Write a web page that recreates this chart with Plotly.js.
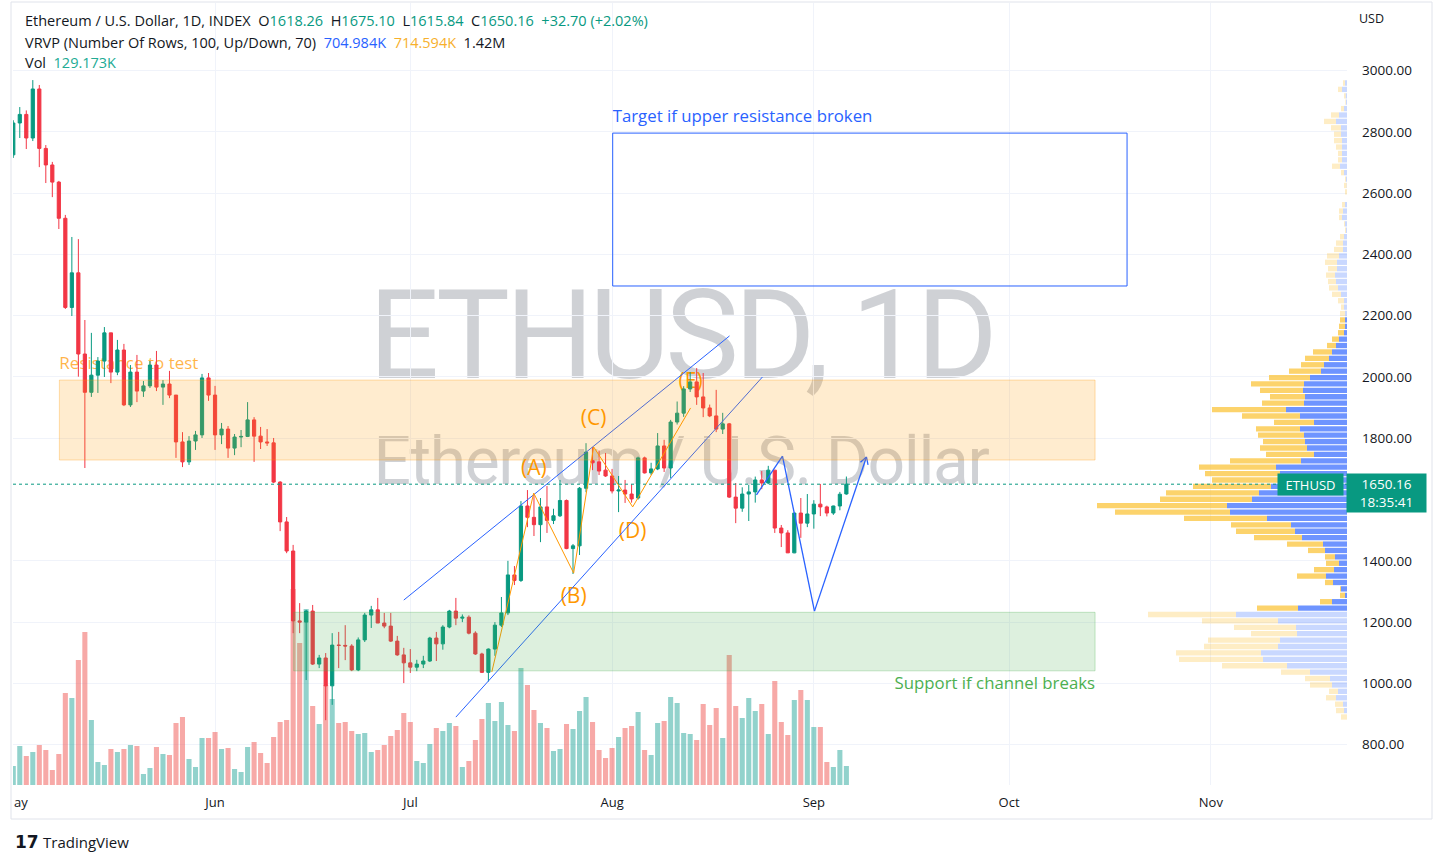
<!DOCTYPE html>
<html>
<head>
<meta charset="utf-8">
<script src="https://cdn.plot.ly/plotly-3.0.1.min.js"></script>
<style>
html,body{margin:0;padding:0;background:#ffffff;}
#wrap{position:relative;width:1445px;height:863px;overflow:hidden;background:#fff;}
#wm{position:absolute;left:0;top:0;width:1445px;height:863px;pointer-events:none;font-family:Roboto,sans-serif;color:rgba(149,152,161,0.45);}
#wm div{position:absolute;white-space:nowrap;transform:translateX(-50%);}
#wm1{left:681px;top:274px;font-size:124px;line-height:124px;letter-spacing:-4.5px;}
#wm2{left:681px;top:429px;font-size:66px;line-height:66px;letter-spacing:-1.4px;}
#chart{position:absolute;left:0;top:0;width:1445px;height:863px;}
</style>
</head>
<body>
<div id="wrap">
  <div id="wm"><div id="wm1">ETHUSD, 1D</div><div id="wm2">Ethereum / U.S. Dollar</div></div>
  <div id="chart"></div>
</div>
<script>
// ---------- Daily OHLC, Ethereum / U.S. Dollar (INDEX), 2022-05-01 .. 2022-09-06 ----------
const firstDay = [2022, 4, 1]; // 1 May 2022 (month is 0-based)
const open = [
 2725,2829,2857,2780,2940,2746,2692,2636,2518,2227,2340,2075,1950,2006,2052,2144,2016,2088,1909,2016,1954,1971,2039,1967,1977,1941,1788,1723,1791,1811,1997,
 1941,1811,1830,1768,1804,1806,1860,1807,1788,1785,1657,1527,1432,1204,1200,1236,1063,1083,992,1125,1124,1122,1044,1142,1223,1240,1197,1187,1138,1093,
 1067,1053,1063,1073,1148,1129,1184,1236,1213,1216,1164,1096,1036,1112,1190,1230,1354,1336,1579,1542,1518,1576,1532,1547,1597,1440,1449,1637,1727,1723,1696,
 1677,1628,1631,1618,1605,1736,1687,1700,1775,1703,1853,1882,1961,1984,1935,1899,1873,1830,1847,1608,1572,1618,1625,1664,1654,1696,1507,1491,1426,1556,1523,
 1553,1585,1576,1556,1579,1618.26];
const high = [
 2838,2881,2870,2969,2953,2757,2702,2640,2529,2457,2450,2186,2144,2065,2163,2144,2121,2108,2039,2072,1987,2052,2085,1990,2020,1941,1820,1807,1824,2010,2013,
 1971,1850,1840,1814,1827,1918,1869,1837,1830,1801,1660,1543,1452,1262,1240,1256,1093,1099,1164,1168,1190,1128,1150,1230,1253,1279,1230,1230,1155,1116,
 1112,1077,1090,1152,1168,1190,1240,1279,1225,1222,1170,1100,1114,1200,1282,1400,1383,1595,1631,1618,1605,1644,1570,1664,1600,1455,1641,1784,1771,1760,1752,
 1700,1677,1664,1650,1740,1740,1720,1817,1795,1860,1920,1970,2016,2029,2013,1910,1958,1883,1850,1654,1640,1648,1675,1693,1710,1696,1517,1500,1556,1605,1618,
 1598,1651,1580,1580,1625,1675.10];
const low = [
 2715,2780,2744,2770,2685,2633,2587,2483,2222,2199,2001,1703,1935,1948,2000,1980,2006,1905,1902,1918,1935,1964,1954,1909,1931,1736,1706,1713,1762,1801,1922,
 1762,1781,1736,1745,1771,1804,1723,1765,1775,1654,1497,1425,1164,1164,1011,1060,1050,880,930,1050,1076,1040,1040,1135,1181,1197,1180,1135,1090,1001,
 1034,1040,1050,1070,1073,1110,1180,1190,1200,1160,1093,1034,1006,1090,1184,1223,1321,1331,1510,1481,1461,1491,1520,1543,1438,1357,1419,1624,1696,1680,1674,
 1620,1559,1589,1590,1600,1685,1680,1696,1690,1670,1845,1870,1951,1909,1869,1869,1820,1814,1605,1523,1560,1530,1590,1634,1650,1491,1445,1426,1425,1475,1510,
 1505,1546,1545,1550,1565,1615.84];
const close = [
 2829,2857,2780,2940,2746,2692,2636,2518,2227,2340,2075,1950,2006,2052,2144,2016,2088,1909,2016,1954,1971,2039,1967,1977,1941,1788,1723,1791,1811,1997,1941,
 1811,1830,1768,1804,1806,1860,1807,1788,1785,1657,1527,1432,1204,1200,1236,1063,1083,992,1125,1124,1122,1044,1142,1223,1240,1197,1187,1138,1093,1067,
 1053,1063,1073,1148,1129,1184,1236,1213,1216,1164,1096,1036,1112,1190,1230,1354,1336,1579,1542,1518,1576,1532,1547,1597,1440,1449,1637,1755,1720,1693,1677,
 1628,1631,1618,1602,1736,1687,1700,1775,1703,1853,1882,1961,1984,1935,1899,1873,1830,1847,1608,1572,1618,1625,1664,1654,1696,1507,1491,1426,1556,1523,1553,
 1585,1576,1556,1579,1617.46,1650.16];
// daily volume, relative units
const volume = [
 19,39,29,33,40,35,15,31,92,87,125,153,65,23,20,36,33,36,40,39,11,17,38,31,30,62,68,26,18,47,47,
 53,36,37,16,13,38,43,32,22,48,63,65,196,142,176,79,61,100,86,62,63,54,51,52,33,35,40,49,55,72,
 63,24,22,41,57,54,62,59,18,24,45,66,82,64,83,60,54,117,100,75,62,57,34,36,61,56,74,88,63,35,27,
 37,48,57,59,73,35,30,62,64,88,82,52,51,45,81,60,77,47,130,79,67,87,74,81,51,104,63,50,85,95,85,
 58,58,23,18,35,19];

// ---------- Visible-range volume profile (100 rows, bottom -> top) ----------
const vpLow = 880, vpStep = 20.9;           // price of lowest row edge, row height
const vpValueArea = [17, 62];               // rows inside the 70% value area
const vpUp = [
 0,3,4,11,9,15,17,37,60,84, 86,69,67,50,51,69,111,49,15,2, 6,14,21,13,8,12,22,24,45,52,
 56,80,117,120,95,88,76,65,67,71, 46,33,40,42,43,47,33,47,61,43, 42,44,43,37,26,23,18,15,11,8,
 3,2,2,2,3,3,6,9,11,12, 10,10,8,4,4,3,1,2,5,4, 2,0,0,0.3,1,3,7,5,5,5, 5,6,6,11,8,3,1,1.3,5,2];
const vpDown = [
 6,8,8,10,9,22,25,29,65,84, 85,74,72,46,62,76,88,41,12,5, 1,8,29,20,13,10,17,36,48,59,
 60,83,115,130,92,93,78,70,75,77, 71,48,47,42,46,44,40,58,74,42, 35,43,53,41,32,23,24,19,9,7,
 6,6,5,5,3,6,9,9,8,9, 9,12,12,9,7,4,1,1,3,4, 3,0,2,2.7,1,3,8,4,4,6, 8,7,10,12,8,3,0.7,1.7,4,2];

// ---------- Axis ticks ----------
const priceTicks = [800,1000,1200,1400,1800,2000,2200,2400,2600,2800,3000];
const monthTicks = ['2022-06-01','2022-07-01','2022-08-01','2022-09-01','2022-10-01','2022-11-01'];
const monthLabels = ['Jun','Jul','Aug','Sep','Oct','Nov'];

// ---------- Drawings (date, price) ----------
const resistanceZone = {x0:'2022-05-08 02:00', x1:'2022-10-14 05:00', y0:1729, y1:1990};
const supportZone    = {x0:'2022-06-13 02:00', x1:'2022-10-14 05:00', y0:1041, y1:1232};
const targetBox      = {x0:'2022-08-01 02:20', x1:'2022-10-19 03:00', y0:2297, y1:2796};
const upperChannel = [['2022-06-30 00:00',1272],['2022-08-19 01:00',2134]];
const lowerChannel = [['2022-07-08 00:00',890],['2022-08-24 02:30',2000]];
const projection = [['2022-08-23 04:30',1615],['2022-08-27 04:20',1742],['2022-09-01 02:20',1236],['2022-09-09 02:00',1739]];
const wave = [['2022-07-13 12:30',1037],['2022-07-19 23:00',1621],['2022-07-26 02:20',1360],['2022-07-29 04:00',1772],['2022-08-04 04:00',1576],['2022-08-13 01:30',1899]];
const waveNames = ['(A)','(B)','(C)','(D)','(E)'];
const waveLabelPos = [['2022-07-20 00:00',1696],['2022-07-26 02:20',1279],['2022-07-29 04:00',1860],['2022-08-04 04:00',1491],['2022-08-13 01:30',1980]];
const zoneTexts = ['Resistance to test','Target if upper resistance broken','Support if channel breaks'];
const zoneTextPos = [['2022-05-08 02:00',2039],['2022-08-01 02:20',2845],['2022-10-14 05:00',995]];

// ---------- Header texts ----------
const symbolTitle = 'Ethereum / U.S. Dollar, 1D, INDEX';
const vrvpTitle = 'VRVP (Number Of Rows, 100, Up/Down, 70)';
const vrvpValues = ['704.984K','714.594K','1.42M'];
const volValue = '129.173K';
const countdown = '18:35:41';

// =====================================================================
const UP = '#089981', DOWN = '#f23645';
const FONT = '"Open Sans", Roboto, sans-serif';
const n = open.length;
const dates = open.map((_, i) => new Date(Date.UTC(firstDay[0], firstDay[1], firstDay[2] + i)).toISOString().slice(0, 10));
const last = n - 1;
const chg = close[last] - close[last - 1];

const NB = '\u00a0';
const g = s => `<span style="color:${UP}">${s}</span>`;
const line1 = `${symbolTitle}${NB}${NB}O${g(open[last].toFixed(2))}${NB}${NB}H${g(high[last].toFixed(2))}${NB}${NB}L${g(low[last].toFixed(2))}${NB}${NB}C${g(close[last].toFixed(2))}${NB}${NB}${g('+' + chg.toFixed(2) + ' (+' + (chg / close[last - 1] * 100).toFixed(2) + '%)')}`;
const line2 = `${vrvpTitle}${NB}${NB}<span style="color:#2962ff">${vrvpValues[0]}</span>${NB}${NB}<span style="color:#f7b02c">${vrvpValues[1]}</span>${NB}${NB}${vrvpValues[2]}`;
const line3 = `Vol${NB}${NB}<span style="color:#22ab94">${volValue}</span>`;

// pixel -> paper helpers for layout placement
const PL = 13, PR = 1347, PT = 3, PB = 785;
const px = x => (x - PL) / (PR - PL);
const py = y => (PB - y) / (PB - PT);

const traces = [];

// drawing texts (under the candles)
traces.push({
  type: 'scatter', mode: 'text', xaxis: 'x', yaxis: 'y', hoverinfo: 'skip',
  x: waveLabelPos.map(p => p[0]).concat(zoneTextPos.map(p => p[0])),
  y: waveLabelPos.map(p => p[1]).concat(zoneTextPos.map(p => p[1])),
  text: waveNames.concat(zoneTexts),
  textposition: ['middle center','middle center','middle center','middle center','middle center','middle right','middle right','middle left'],
  textfont: {
    family: FONT,
    size: [21,21,21,21,21,17,16.8,16.8],
    color: ['#ff9800','#ff9800','#ff9800','#ff9800','#ff9800','rgba(255,152,0,0.72)','#2962ff','#4caf50']
  }
});

// volume
traces.push({
  type: 'bar', xaxis: 'x', yaxis: 'y2', x: dates, y: volume, hoverinfo: 'skip',
  width: 0.78 * 86400000,
  marker: {color: close.map((c, i) => c >= open[i] ? 'rgba(38,166,154,0.5)' : 'rgba(239,83,80,0.5)'), line: {width: 0}}
});

// candles
traces.push({
  type: 'candlestick', xaxis: 'x', yaxis: 'y3', x: dates, open, high, low, close, hoverinfo: 'skip',
  increasing: {line: {color: UP, width: 1}, fillcolor: UP},
  decreasing: {line: {color: DOWN, width: 1}, fillcolor: DOWN},
  whiskerwidth: 0
});

// volume profile
const vpY = vpUp.map((_, k) => vpLow + (k + 0.5) * vpStep);
const inVA = k => k >= vpValueArea[0] && k <= vpValueArea[1];
traces.push({
  type: 'bar', orientation: 'h', xaxis: 'x2', yaxis: 'y', y: vpY, x: vpUp, base: 0, width: vpStep * 0.83,
  hoverinfo: 'skip', marker: {color: vpUp.map((_, k) => inVA(k) ? 'rgba(41,98,255,0.68)' : 'rgba(41,98,255,0.25)'), line: {width: 0}}
});
traces.push({
  type: 'bar', orientation: 'h', xaxis: 'x2', yaxis: 'y', y: vpY, x: vpDown, base: vpUp, width: vpStep * 0.83,
  hoverinfo: 'skip', marker: {color: vpDown.map((_, k) => inVA(k) ? 'rgba(251,192,45,0.7)' : 'rgba(251,192,45,0.28)'), line: {width: 0}}
});

// shapes
const shapes = [];
const seg = (pts, color, w) => { for (let i = 0; i < pts.length - 1; i++) shapes.push({type: 'line', xref: 'x', yref: 'y', x0: pts[i][0], y0: pts[i][1], x1: pts[i+1][0], y1: pts[i+1][1], line: {color, width: w}, layer: 'above'}); };
seg(upperChannel, '#2962ff', 1);
seg(lowerChannel, '#2962ff', 1);
seg(wave, '#ff9800', 1);
seg(projection, '#2962ff', 1.3);
// arrow head at end of projection
const tip = projection[projection.length - 1];
[[-6, -5.3], [1.6, -7.8]].forEach(d => shapes.push({type: 'line', xref: 'x', yref: 'y', xsizemode: 'pixel', ysizemode: 'pixel', xanchor: tip[0], yanchor: tip[1], x0: 0, y0: 0, x1: d[0], y1: d[1], line: {color: '#2962ff', width: 1.3}, layer: 'above'}));
shapes.push(Object.assign({type: 'rect', xref: 'x', yref: 'y', fillcolor: 'rgba(255,152,0,0.19)', line: {color: 'rgba(255,152,0,0.3)', width: 1}, layer: 'above'}, resistanceZone));
shapes.push(Object.assign({type: 'rect', xref: 'x', yref: 'y', fillcolor: 'rgba(76,175,80,0.19)', line: {color: 'rgba(76,175,80,0.3)', width: 1}, layer: 'above'}, supportZone));
shapes.push(Object.assign({type: 'rect', xref: 'x', yref: 'y', fillcolor: 'rgba(0,0,0,0)', line: {color: '#2962ff', width: 1}, layer: 'above'}, targetBox));
// last price line
shapes.push({type: 'line', xref: 'paper', yref: 'y', x0: 0, x1: 1, y0: close[last], y1: close[last], line: {color: UP, width: 1, dash: 'dot'}, layer: 'above'});
// chart frame
shapes.push({type: 'rect', xref: 'paper', yref: 'paper', x0: px(11), x1: px(1432), y0: py(819), y1: py(2), line: {color: '#e0e3eb', width: 1}, fillcolor: 'rgba(0,0,0,0)', layer: 'above'});

const annotations = [
  {xref: 'paper', yref: 'paper', x: px(23), y: py(21), xanchor: 'left', yanchor: 'middle', text: line1, showarrow: false, font: {size: 14.5, color: '#131722'}},
  {xref: 'paper', yref: 'paper', x: px(23), y: py(42), xanchor: 'left', yanchor: 'middle', text: line2, showarrow: false, font: {size: 14.5, color: '#131722'}},
  {xref: 'paper', yref: 'paper', x: px(23), y: py(63), xanchor: 'left', yanchor: 'middle', text: line3, showarrow: false, font: {size: 14.5, color: '#131722'}},
  {xref: 'paper', yref: 'paper', x: px(1372), y: py(18), xanchor: 'center', yanchor: 'middle', text: 'USD', showarrow: false, font: {size: 12.5, color: '#131722'}},
  {xref: 'paper', yref: 'paper', x: px(12), y: py(802), xanchor: 'left', yanchor: 'middle', text: 'ay', showarrow: false, font: {size: 13, color: '#131722'}},
  {xref: 'paper', yref: 'y', x: px(1310.5), y: close[last], xanchor: 'center', yanchor: 'middle', text: 'ETHUSD', showarrow: false, bgcolor: UP, width: 63, height: 19, borderpad: 1, font: {size: 13, color: '#ffffff'}},
  {xref: 'paper', yref: 'paper', x: px(1386.5), y: py(493), xanchor: 'center', yanchor: 'middle', text: close[last].toFixed(2) + '<br>' + countdown, showarrow: false, bgcolor: UP, width: 77, height: 36, borderpad: 1, font: {size: 13.5, color: '#ffffff'}},
  {xref: 'paper', yref: 'paper', x: px(13), y: py(842), xanchor: 'left', yanchor: 'middle', text: '<b>17</b>', showarrow: false, font: {size: 17, color: '#131722', family: 'DejaVu Sans, sans-serif'}},
  {xref: 'paper', yref: 'paper', x: px(41), y: py(842), xanchor: 'left', yanchor: 'middle', text: 'TradingView', showarrow: false, font: {size: 15, color: '#131722'}}
];

const yRange = [668.4, 3220.6];
const layout = {
  width: 1445, height: 863,
  margin: {l: PL, r: 1445 - PR, t: PT, b: 863 - PB, pad: 0},
  paper_bgcolor: 'rgba(0,0,0,0)', plot_bgcolor: 'rgba(0,0,0,0)',
  showlegend: false, hovermode: false, barmode: 'overlay',
  font: {family: FONT, size: 13, color: '#131722'},
  xaxis: {type: 'date', range: ['2022-04-30 23:00', '2022-11-21 22:00'], tickvals: monthTicks, ticktext: monthLabels,
          showgrid: true, gridcolor: '#f0f3fa', gridwidth: 1, zeroline: false, showline: false, ticks: '', ticklabelstandoff: 8,
          rangeslider: {visible: false}, tickfont: {size: 13, color: '#131722'}},
  xaxis2: {overlaying: 'x', anchor: 'y', range: [PR - PL, 0], visible: false, fixedrange: true},
  yaxis: {side: 'right', range: yRange, tickvals: priceTicks, ticktext: priceTicks.map(v => v.toFixed(2)),
          showgrid: true, gridcolor: '#f0f3fa', gridwidth: 1, zeroline: false, showline: false, ticks: '', ticklabelstandoff: 14,
          tickfont: {size: 13.5, color: '#131722'}},
  yaxis2: {overlaying: 'y', range: [0, PB - PT], visible: false},
  yaxis3: {overlaying: 'y', range: yRange, visible: false},
  shapes, annotations
};

Plotly.newPlot('chart', traces, layout, {staticPlot: true, displayModeBar: false});
</script>
</body>
</html>
